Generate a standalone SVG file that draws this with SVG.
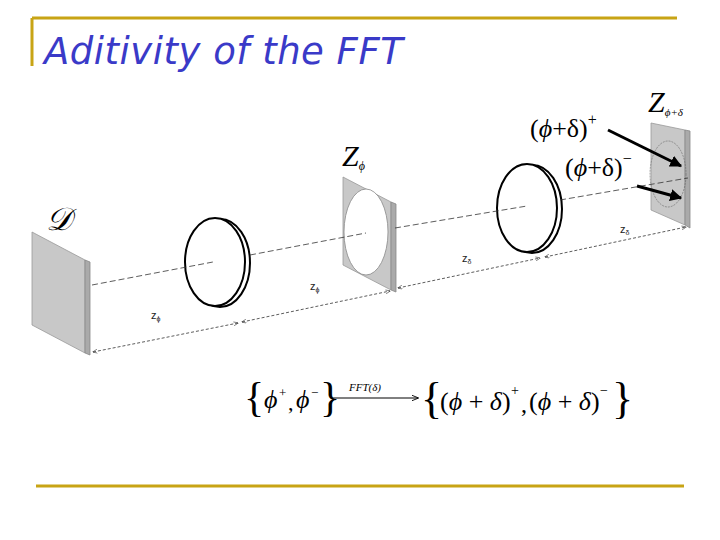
<svg xmlns="http://www.w3.org/2000/svg" width="720" height="540" viewBox="0 0 720 540">
<style>
.face{fill:#c8c8c8;stroke:#999;stroke-width:0.8}
.side{fill:#aaa;stroke:#888;stroke-width:0.8}
.lens{fill:#fff;stroke:#000;stroke-width:2}
.axis{stroke:#333;stroke-width:0.8;stroke-dasharray:6,3;fill:none}
.dim{stroke:#333;stroke-width:0.8;stroke-dasharray:3,2;fill:none;marker-start:url(#ah);marker-end:url(#ah)}
.lbl{font-family:"Liberation Serif",serif;fill:#000}
.z{font-family:"Liberation Sans",sans-serif;font-size:11px;fill:#222}
</style>
<defs>
<marker id="ah" viewBox="0 0 10 10" refX="9" refY="5" markerWidth="6" markerHeight="6" orient="auto-start-reverse"><path d="M0,1 L10,5 L0,9" fill="none" stroke="#333" stroke-width="1.2"/></marker>
<marker id="big" viewBox="0 0 10 10" refX="9" refY="5" markerWidth="4" markerHeight="4" orient="auto"><path d="M0,0 L10,5 L0,10 z" fill="#000"/></marker>
<marker id="fa" viewBox="0 0 10 10" refX="9" refY="5" markerWidth="7" markerHeight="7" orient="auto"><path d="M0,1 L10,5 L0,9" fill="none" stroke="#000" stroke-width="1.3"/></marker>
</defs>
<g id="frame" stroke="#c8a415" stroke-width="3">
<line x1="32" y1="18" x2="677" y2="18"/>
<line x1="32" y1="18" x2="32" y2="66"/>
<line x1="36" y1="486" x2="684" y2="486"/>
</g>
<text x="44" y="64" font-family="'DejaVu Sans',sans-serif" font-style="italic" font-size="37" letter-spacing="0.5" fill="#3a3ac8">Aditivity of the FFT</text>
<g id="D">
<polygon class="face" points="32,232 85,260 85,353 32,325"/>
<polygon class="side" points="85,260 90,262 90,355 85,353"/>
<text class="lbl" x="46" y="230" font-size="32" font-style="italic" font-family="'DejaVu Serif',serif">𝒟</text>
</g>
<g id="lens1">
<ellipse class="lens" cx="220" cy="263" rx="30" ry="44"/>
<ellipse class="lens" cx="215" cy="262" rx="30" ry="44"/>
</g>
<g id="Zphi">
<polygon class="face" points="343,177 391,202 391,290 343,265"/>
<polygon class="side" points="391,202 396,204 396,292 391,290"/>
<ellipse cx="366" cy="232" rx="22" ry="43" fill="#fff" stroke="#888" stroke-width="0.8"/>
<text class="lbl" x="342" y="166" font-size="30" font-style="italic">Z<tspan font-size="12" dy="4">ϕ</tspan></text>
</g>
<g id="lens2">
<ellipse class="lens" cx="532" cy="209" rx="30" ry="44"/>
<ellipse class="lens" cx="527" cy="208" rx="30" ry="44"/>
</g>
<g id="Zphidelta">
<polygon class="face" points="651,123 685,130 685,225 651,210"/>
<polygon class="side" points="685,130 690,131 690,228 685,225"/>
<ellipse cx="668" cy="174" rx="18" ry="33" fill="none" stroke="#666" stroke-width="0.6" stroke-dasharray="2,1"/>
<text class="lbl" x="648" y="112" font-size="30" font-style="italic">Z<tspan font-size="11" dy="4">ϕ+δ</tspan></text>
<text class="lbl" x="530" y="137" font-size="26" font-family="'Liberation Sans',sans-serif">(<tspan font-style="italic" font-family="'Liberation Serif',serif">ϕ</tspan>+δ)<tspan font-size="16" dy="-12">+</tspan></text>
<text class="lbl" x="565" y="176" font-size="26" font-family="'Liberation Sans',sans-serif">(<tspan font-style="italic" font-family="'Liberation Serif',serif">ϕ</tspan>+δ)<tspan font-size="16" dy="-12">−</tspan></text>
</g>
<g id="connectors">
<path class="axis" d="M92,285 L213,262 M250,255 L366,233 M395,228 L527,206 M560,200 L688,178"/>
<path class="dim" d="M93,352 L238,323"/>
<path class="dim" d="M242,322 L390,291"/>
<path class="dim" d="M398,288 L540,258"/>
<path class="dim" d="M545,257 L686,227"/>
<line x1="608" y1="130" x2="681" y2="166" stroke="#000" stroke-width="3" marker-end="url(#big)"/>
<line x1="637" y1="186" x2="681" y2="198" stroke="#000" stroke-width="3" marker-end="url(#big)"/>
</g>
<g id="labels">
<text class="z" x="151" y="319">z<tspan font-size="7" dy="2">ϕ</tspan></text>
<text class="z" x="310" y="290">z<tspan font-size="7" dy="2">ϕ</tspan></text>
<text class="z" x="462" y="262">z<tspan font-size="7" dy="2">δ</tspan></text>
<text class="z" x="620" y="233">z<tspan font-size="7" dy="2">δ</tspan></text>
</g>
<g id="formula" class="lbl">
<text x="244" y="411" font-size="42">{</text>
<text x="264" y="408" font-size="26" font-style="italic">ϕ</text>
<text x="279" y="397" font-size="13">+</text>
<text x="288" y="410" font-size="22">,</text>
<text x="296" y="408" font-size="26" font-style="italic">ϕ</text>
<text x="311" y="397" font-size="13">−</text>
<text x="320" y="411" font-size="42">}</text>
<line x1="331" y1="398" x2="418" y2="398" stroke="#000" stroke-width="1" marker-end="url(#fa)"/>
<text x="349" y="391" font-size="11" font-style="italic">FFT(δ)</text>
<text x="421" y="413" font-size="44">{</text>
<text x="440" y="410" font-size="26">(<tspan font-style="italic">ϕ</tspan> + <tspan font-style="italic">δ</tspan>)</text>
<text x="511" y="395" font-size="14">+</text>
<text x="521" y="412" font-size="24">,</text>
<text x="529" y="410" font-size="26">(<tspan font-style="italic">ϕ</tspan> + <tspan font-style="italic">δ</tspan>)</text>
<text x="600" y="395" font-size="14">−</text>
<text x="612" y="413" font-size="44">}</text>
</g>
</svg>
